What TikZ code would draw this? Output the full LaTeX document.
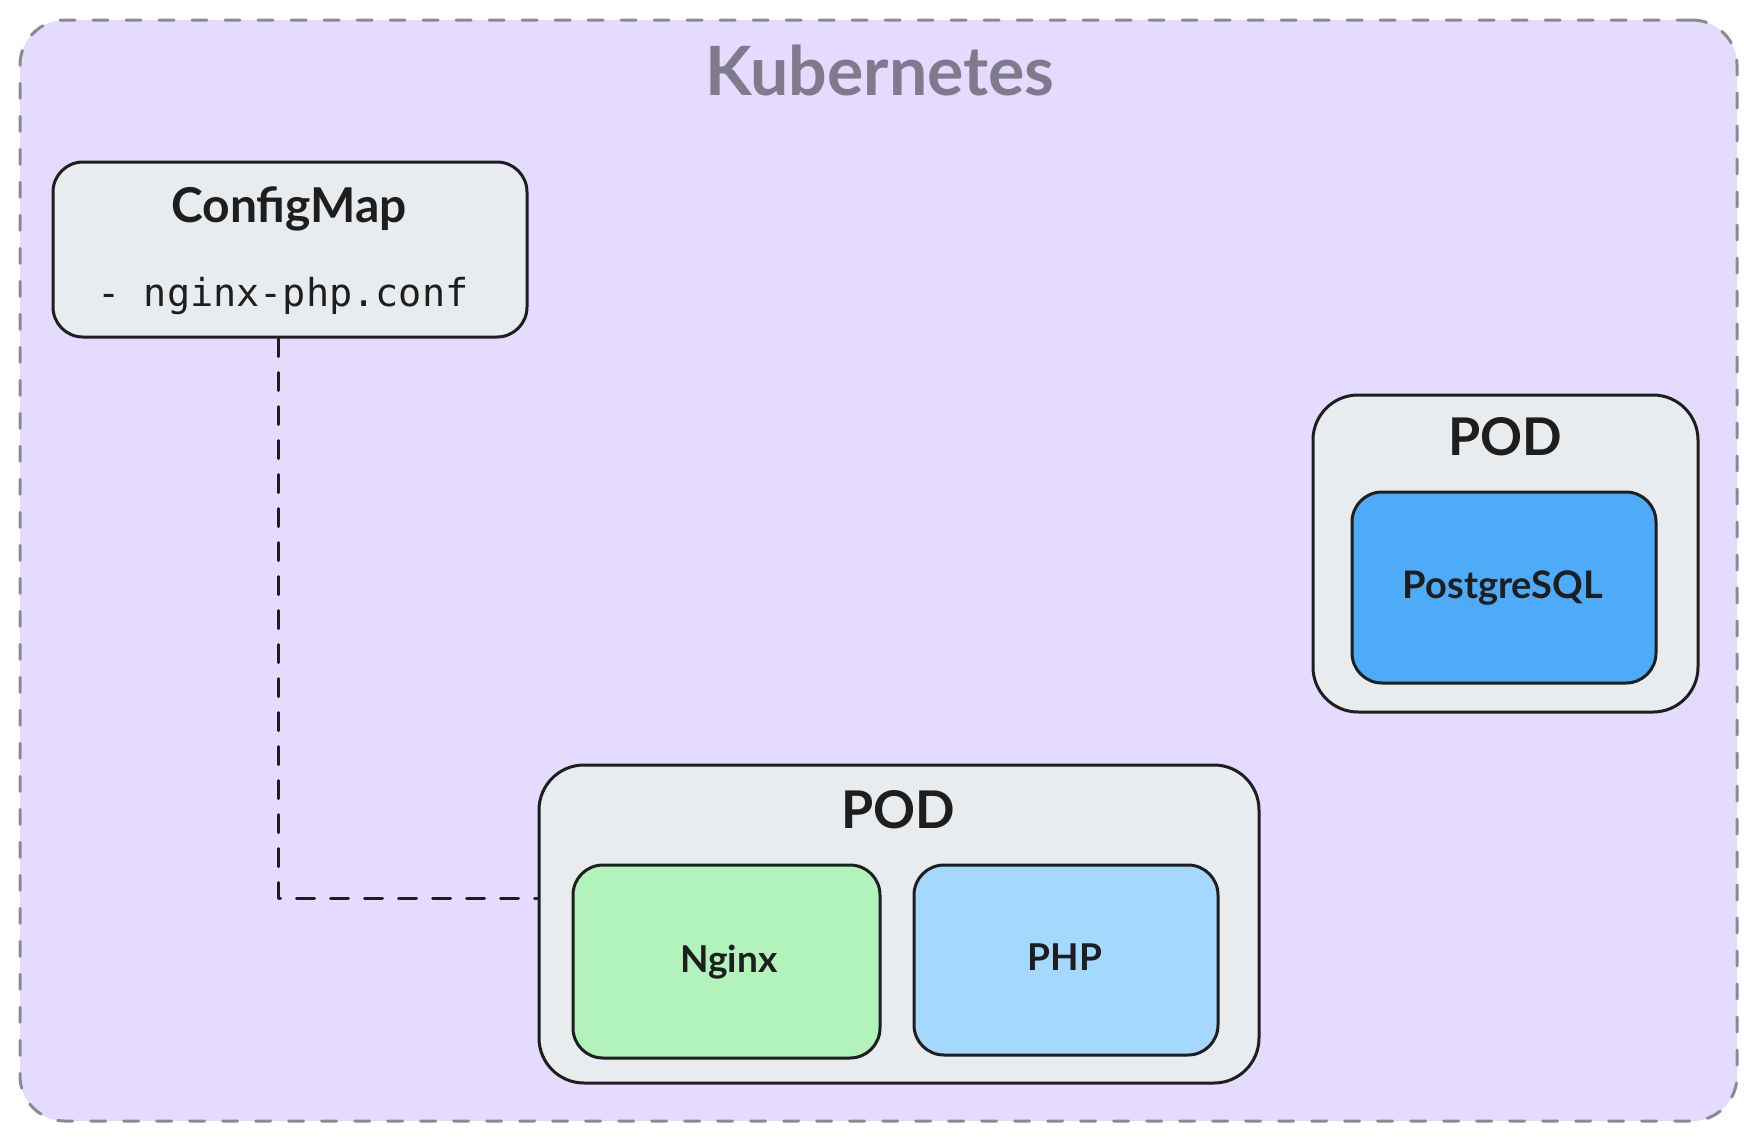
\documentclass[tikz,border=0pt]{standalone}
\usepackage{fontspec}
\setmainfont{Lato}
\newfontfamily\codefont{DejaVu Sans Mono}
\usetikzlibrary{positioning}

\definecolor{ink}{HTML}{1E1E1E}
\definecolor{k8sbg}{HTML}{E5DBFF}
\definecolor{k8sline}{HTML}{8A8A90}
\definecolor{k8stext}{HTML}{7F7A8C}
\definecolor{podgray}{HTML}{E9ECEF}
\definecolor{nginxgreen}{HTML}{B2F2BB}
\definecolor{phpblue}{HTML}{A5D8FF}
\definecolor{pgblue}{HTML}{4DABF7}

\begin{document}
\begin{tikzpicture}[
            x = 1pt, y = -1pt, % one unit per pixel, y going down
            line join = round, % soft corners on the lines
            line cap = round,
            semithick % line style
        ]

        \tikzstyle{box}=[
            draw = ink,
            line width = 3pt,
            rounded corners = 30pt,
            fill = podgray,
            inner sep = 0pt
        ]
        \tikzstyle{label}=[
            text = ink,
            inner sep = 0pt,
            anchor = base
        ]

	\useasboundingbox (0,0) rectangle (1757,1141);

	% cluster
	\node[draw = k8sline, line width = 3pt, dash pattern = on 15pt off 18pt,
	      fill = k8sbg, rounded corners = 45pt,
	      minimum width = 1717pt, minimum height = 1101pt] (k8s) at (878.5,570.5) {};
	\node[label, text = k8stext, font = \bfseries\fontsize{68}{68}\selectfont] (k8stitle) at (880,95) {Kubernetes};

	% config map
	\node[box, minimum width = 474pt, minimum height = 175pt] (cfg) at (290,249.5) {};
	\node[label, font = \bfseries\fontsize{48}{48}\selectfont] (cfgtitle) at (289,222) {ConfigMap};
	\node[label, font = \codefont\fontsize{38.5}{38.5}\selectfont] (cfgfile) at (283,306) {- nginx-php.conf};

	% pods
	\node[box, rounded corners = 45pt, minimum width = 720pt, minimum height = 318pt] (webpod) at (899,924) {};
	\node[label, font = \bfseries\fontsize{52}{52}\selectfont] (webpodtitle) at (898,828) {POD};
	\node[box, fill = nginxgreen, minimum width = 307pt, minimum height = 193pt] (nginx) at (726.5,961.5) {};
	\node[label, font = \bfseries\fontsize{37}{37}\selectfont] (nginxtext) at (729,972) {Nginx};
	\node[box, fill = phpblue, minimum width = 304pt, minimum height = 190pt] (php) at (1066,960) {};
	\node[label, font = \bfseries\fontsize{37}{37}\selectfont] (phptext) at (1065,970) {PHP};

	\node[box, rounded corners = 45pt, minimum width = 385pt, minimum height = 317pt] (dbpod) at (1505.5,553.5) {};
	\node[label, font = \bfseries\fontsize{52}{52}\selectfont] (dbpodtitle) at (1505,455) {POD};
	\node[box, fill = pgblue, minimum width = 304pt, minimum height = 191pt] (pg) at (1504,587.5) {};
	\node[label, font = \bfseries\fontsize{38}{38}\selectfont] (pgtext) at (1503,598) {PostgreSQL};

	% mount
	\coordinate (bend) at (278,898);
	\draw[ink, line width = 3pt, dash pattern = on 18pt off 16pt]
	    (cfg.south -| bend) -- (bend) -- (bend -| webpod.west);

    \end{tikzpicture}
\end{document}
